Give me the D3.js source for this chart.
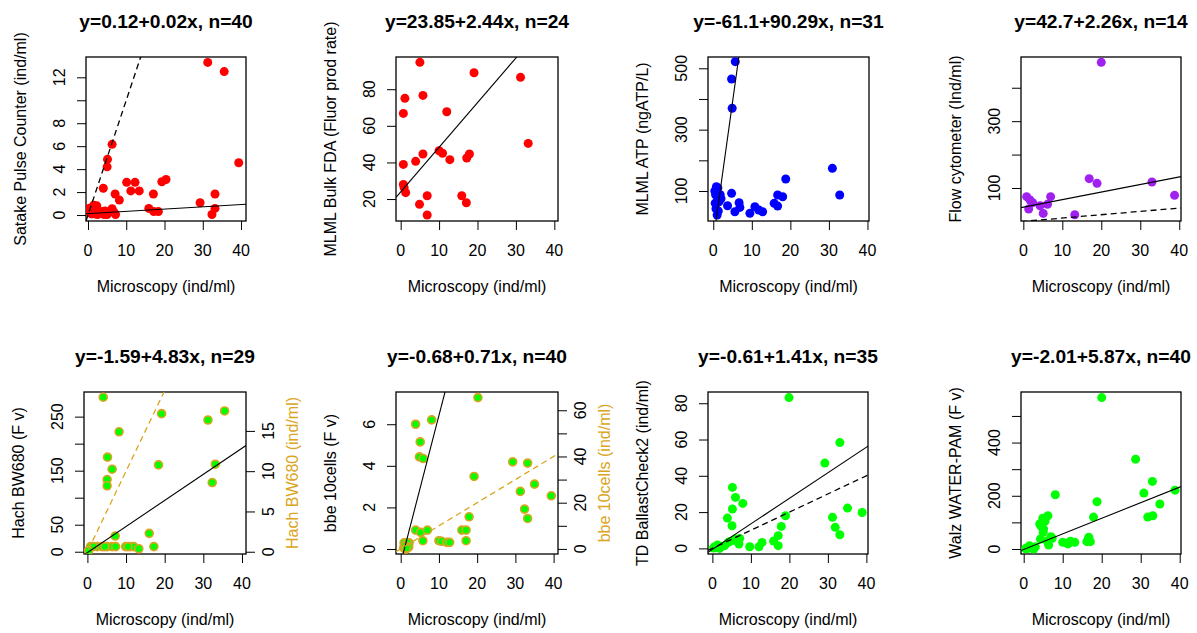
<!DOCTYPE html>
<html>
<head>
<meta charset="utf-8">
<script src="https://cdn.jsdelivr.net/npm/d3@7"></script>
<style>
body{margin:0;background:#fff;}
svg text{font-family:"Liberation Sans",Arial,sans-serif;fill:#000;}
</style>
</head>
<body>
<div id="chart"></div>
<script>
var w = 1197, h = 633;

//titles and axis labels
var titles = ['y=0.12+0.02x, n=40','y=23.85+2.44x, n=24','y=-61.1+90.29x, n=31','y=42.7+2.26x, n=14',
              'y=-1.59+4.83x, n=29','y=-0.68+0.71x, n=40','y=-0.61+1.41x, n=35','y=-2.01+5.87x, n=40'];
var yLabels = ['Satake Pulse Counter (ind/ml)','MLML Bulk FDA (Fluor prod rate)','MLML ATP (ngATP/L)','Flow cytometer (Ind/ml)',
               'Hach BW680 (F v)','bbe 10cells (F v)','TD BallastCheck2 (ind/ml)','Walz WATER-PAM (F v)'];
var y2Labels = [null,null,null,null,'Hach BW680 (ind/ml)','bbe 10cells (ind/ml)',null,null];
var xLabel = 'Microscopy (ind/ml)';

//regression coefficients
var intercepts = [0.12, 23.85, -61.1, 42.7, -1.59, -0.68, -0.61, -2.01];
var slopes = [0.02, 2.44, 90.29, 2.26, 4.83, 0.71, 1.41, 5.87];

//ticks
var xTicks = [0,10,20,30,40];
var yTicks = [[0,2,4,6,8,10,12],[20,40,60,80],[100,200,300,400,500],[100,200,300,400],
              [0,50,100,150,200,250],[0,2,4,6],[0,20,40,60,80],[0,100,200,300,400,500]];
var yTickLabels = [[0,2,4,6,8,12],[20,40,60,80],[100,300,500],[100,300],
                   [0,50,150,250],[0,2,4,6],[0,20,40,60,80],[0,200,400]];
var y2Ticks = [null,null,null,null,[0,5,10,15],[0,10,20,30,40,50,60],null,null];
var y2TickLabels = [null,null,null,null,[0,5,10,15],[0,20,40,60],null,null];

//axis ranges
var xDom = [[-0.52,41.3],[-1.22,40.96],[-1.37,40.4],[-0.6,40.45],[-0.88,41.04],[-1.23,41.15],[-1.14,40.42],[-0.69,40.33]];
var yDom = [[-0.52,13.77],[8.0,97.6],[2.3,536.8],[1.2,492],[-4.2,295.6],[-0.24,7.55],[-3.1,86.2],[-18.8,590]];
var y2Dom = [null,null,null,null,[-0.28,19.83],[-2.2,67.9],null,null];

//data
var xs1 = [31.3,35.6,39.4,6.3,5.1,5.0,4.0,10.1,12.3,11.2,13.4,19.3,20.4,17.1,7.1,8.2,33.2,29.3,33.2,32.4,15.9,17.2,18.4,0.4,1.5,2.3,0.9,1.8,3.0,4.5,5.0,5.9,6.3,7.2,3.8,1.2,2.5,6.8,0.6,4.2];
var ys1 = [13.3,12.5,4.56,6.16,4.85,4.2,2.33,2.85,2.85,2.1,2.1,2.9,3.1,1.83,1.83,1.3,1.83,1.07,0.58,0.05,0.58,0.3,0.3,0.6,0.85,0.8,0.1,0.1,0.15,0.35,0.05,0.3,0.55,0.05,0.3,0.35,0.05,0.25,0.2,0.05];

var xs2 = [5.0,19.1,31.2,1.1,5.8,0.7,12.0,33.2,10.0,10.9,5.8,3.9,0.7,12.8,17.2,17.9,0.7,0.9,1.3,6.9,15.9,4.9,17.1,6.9];
var ys2 = [94.7,89.0,86.5,75.0,76.6,66.8,67.7,50.4,46.4,45.0,44.6,40.6,38.9,41.5,42.4,44.6,28.0,26.2,23.5,21.8,21.8,17.1,18.0,11.3];

var xs3 = [5.7,4.75,4.9,30.9,18.8,32.8,16.7,18.0,15.8,16.7,4.75,3.7,6.7,6.9,5.6,9.5,10.8,11.8,12.8,0.4,0.8,1.2,0.6,1.1,1.8,2.0,0.5,1.5,0.7,1.3,1.0];
var ys3 = [521.7,465,369.6,173.9,139,87,87,81.5,59.8,51,92.4,52,62,46.7,32.6,27.2,49,38,32.6,100,114,110,88,80,88,75,60,65,42,35,22];

var xs4 = [20.0,16.9,18.9,33.0,38.8,0.85,1.37,2.4,7.0,6.2,4.3,5.1,13.2,1.7];
var ys4 = [476,128,114,118,78,74,37,56,74,51,47,24,20,64];

var xs5 = [4.1,19.2,35.5,31.2,8.2,5.2,6.4,18.4,33.1,5.1,5.1,32.3,7.2,16.0,0.8,2.5,3.8,5.1,6.4,7.3,9.9,11.2,12.0,13.3,17.2,1.5,4.5,10.5,0.3];
var ys5 = [286,255.5,260.5,243.8,222,175,152.7,160.7,162,133.6,122,128,29,34,9.5,9.5,9.5,9.5,9.5,9.5,9.5,9.5,9.5,5.5,9.5,9.5,9.5,9.5,2];

var xs6 = [20.2,8.1,3.9,5.1,4.9,5.9,29.3,33.2,19.2,35.0,31.3,39.4,32.4,33.2,17.9,3.9,5.2,7.0,5.8,16.0,17.1,17.1,10.0,10.7,12.1,12.8,
           0.8,1.0,1.2,1.4,1.6,1.8,2.0,2.2,0.9,1.3,1.7,2.1,1.1,1.5];
var ys6 = [7.28,6.21,6.0,5.15,4.43,4.35,4.19,4.13,3.49,3.12,2.77,2.56,1.92,1.47,1.55,0.91,0.8,0.91,0.4,0.91,0.91,0.4,0.4,0.37,0.32,0.32,
           0.05,0.2,0.1,0.25,0.15,0.05,0.2,0.3,0.3,0.0,0.3,0.1,0.15,0.05];

var xs7 = [19.9,33.1,29.2,5.2,6.0,7.9,5.2,3.9,5.1,35.1,38.9,31.2,31.9,33.1,19.0,17.9,17.1,17.1,15.9,12.9,12.1,9.7,6.9,7.1,6.0,4.1,0.6,1.3,1.9,3.2,0.3,1.0,2.2,4.5,5.5];
var ys7 = [83.1,58.3,47,33.6,28.1,24.8,21.7,16.7,12.5,22.2,19.8,17.1,11.6,7.5,18,12.1,7,1.5,4.0,3.3,0.9,0.9,2.4,5.5,5.1,3.3,0.9,1.8,0,1.5,0.2,0.5,1.2,3.8,4.5];

var xs8 = [20.0,28.7,33.0,30.8,8.1,38.8,18.8,34.9,17.9,31.8,33.1,6.2,4.9,4.1,5.1,5.0,4.3,7.0,6.4,16.7,16.2,17.1,10.0,11.4,13.1,12.0,0.7,1.5,2.1,2.6,4.5,5.5,6.0,7.3,1.0,1.8,3.0,0.5,11.0,16.5];
var ys8 = [569,337.5,254,210,204,221,177.5,169,120,120,125,125,116,94,75,62.5,37.5,46,15,44,27.5,27.5,25,19,25,29,4,12,4,0,85,105,30,40,2,6,8,1,22,35];

var allX = [xs1,xs2,xs3,xs4,xs5,xs6,xs7,xs8];
var allY = [ys1,ys2,ys3,ys4,ys5,ys6,ys7,ys8];

//look of each panel
var ptFill = ['#ff0000','#ff0000','#0000ff','#a020f0','#00ff00','#00ff00','#00ff00','#00ff00'];
var ptStroke = [null,null,null,null,'#daa520','#daa520',null,null];
var oneToOne = ['#000',null,null,'#000','#daa520','#daa520','#000',null]; //dashed 1:1 line
var gold = '#daa520';

//plot boxes
var boxL = [86,396,708,1021,84,396,708,1021];
var boxR = [246,558,869,1181,246,558,868,1181];
var rowT = [57,392], rowB = [221,554];

var svg = d3.select('div#chart').append('svg')
            .attr('width',w)
            .attr('height',h);

allX.forEach(function(xs,i){
	var ys = allY[i];
	var L = boxL[i], R = boxR[i], T = rowT[i<4?0:1], B = rowB[i<4?0:1];
	var x = d3.scaleLinear().domain(xDom[i]).range([L,R]);
	var y = d3.scaleLinear().domain(yDom[i]).range([B,T]);
	var g = svg.append('g').attr('class','panel');

	g.append('clipPath').attr('id','clip'+i)
	  .append('rect').attr('x',L).attr('y',T).attr('width',R-L).attr('height',B-T);

	//title
	g.append('text')
	  .attr('x',(L+R)/2).attr('y',T-29)
	  .attr('text-anchor','middle')
	  .style('font-size','19.2px').style('font-weight','bold')
	  .text(titles[i]);

	//x axis
	var xa = g.append('g').attr('transform','translate(0,'+B+')')
	          .call(d3.axisBottom(x).tickValues(xTicks).tickSize(9).tickFormat(''));
	xa.select('.domain').remove();
	xa.selectAll('line').attr('stroke','#000');
	g.selectAll('text.xt').data(xTicks).enter()
	  .append('text').attr('class','xt')
	  .attr('x',function(d){return x(d);}).attr('y',B+35)
	  .attr('text-anchor','middle').style('font-size','16px')
	  .text(function(d){return d;});
	g.append('text')
	  .attr('x',(L+R)/2).attr('y',B+71)
	  .attr('text-anchor','middle').style('font-size','16px')
	  .text(xLabel);

	//left y axis
	var ya = g.append('g').attr('transform','translate('+L+',0)')
	          .call(d3.axisLeft(y).tickValues(yTicks[i]).tickSize(9).tickFormat(''));
	ya.select('.domain').remove();
	ya.selectAll('line').attr('stroke','#000');
	g.selectAll('text.yt').data(yTickLabels[i]).enter()
	  .append('text').attr('class','yt')
	  .attr('transform',function(d){return 'translate('+(L-21)+','+y(d)+') rotate(-90)';})
	  .attr('text-anchor','middle').style('font-size','16px')
	  .text(function(d){return d;});
	g.append('text')
	  .attr('transform','translate('+(L-60)+','+((T+B)/2)+') rotate(-90)')
	  .attr('text-anchor','middle').style('font-size','16px')
	  .text(yLabels[i]);

	//right y axis (second unit)
	var y2 = null;
	if (y2Dom[i]) {
		y2 = d3.scaleLinear().domain(y2Dom[i]).range([B,T]);
		var ra = g.append('g').attr('transform','translate('+R+',0)')
		          .call(d3.axisRight(y2).tickValues(y2Ticks[i]).tickSize(9).tickFormat(''));
		ra.select('.domain').remove();
		ra.selectAll('line').attr('stroke','#000');
		g.selectAll('text.y2t').data(y2TickLabels[i]).enter()
		  .append('text').attr('class','y2t')
		  .attr('transform',function(d){return 'translate('+(R+28)+','+y2(d)+') rotate(-90)';})
		  .attr('text-anchor','middle').style('font-size','16px')
		  .text(function(d){return d;});
		g.append('text')
		  .attr('transform','translate('+(R+52)+','+((T+B)/2)+') rotate(-90)')
		  .attr('text-anchor','middle').style('font-size','16px')
		  .style('fill',gold)
		  .text(y2Labels[i]);
	}

	//box
	g.append('rect')
	  .attr('x',L).attr('y',T).attr('width',R-L).attr('height',B-T)
	  .attr('fill','none').attr('stroke','#000').attr('stroke-width',1.3);

	var inner = g.append('g').attr('clip-path','url(#clip'+i+')');

	//points
	inner.selectAll('circle').data(xs).enter()
	  .append('circle')
	  .attr('cx',function(d){return x(d);})
	  .attr('cy',function(d,j){return y(ys[j]);})
	  .attr('r',ptStroke[i] ? 4 : 4.5)
	  .attr('fill',ptFill[i])
	  .attr('stroke',ptStroke[i] || 'none')
	  .attr('stroke-width',1.6);

	//regression line
	var x0 = xDom[i][0], x1 = xDom[i][1];
	inner.append('line')
	  .attr('x1',x(x0)).attr('y1',y(intercepts[i]+slopes[i]*x0))
	  .attr('x2',x(x1)).attr('y2',y(intercepts[i]+slopes[i]*x1))
	  .attr('stroke','#000').attr('stroke-width',1.1);

	//1:1 line
	if (oneToOne[i]) {
		var ys11 = y2 || y;
		inner.append('line')
		  .attr('x1',x(x0)).attr('y1',ys11(x0))
		  .attr('x2',x(x1)).attr('y2',ys11(x1))
		  .attr('stroke',oneToOne[i]).attr('stroke-width',1.3)
		  .attr('stroke-dasharray','6,4');
	}
});
</script>
</body>
</html>
